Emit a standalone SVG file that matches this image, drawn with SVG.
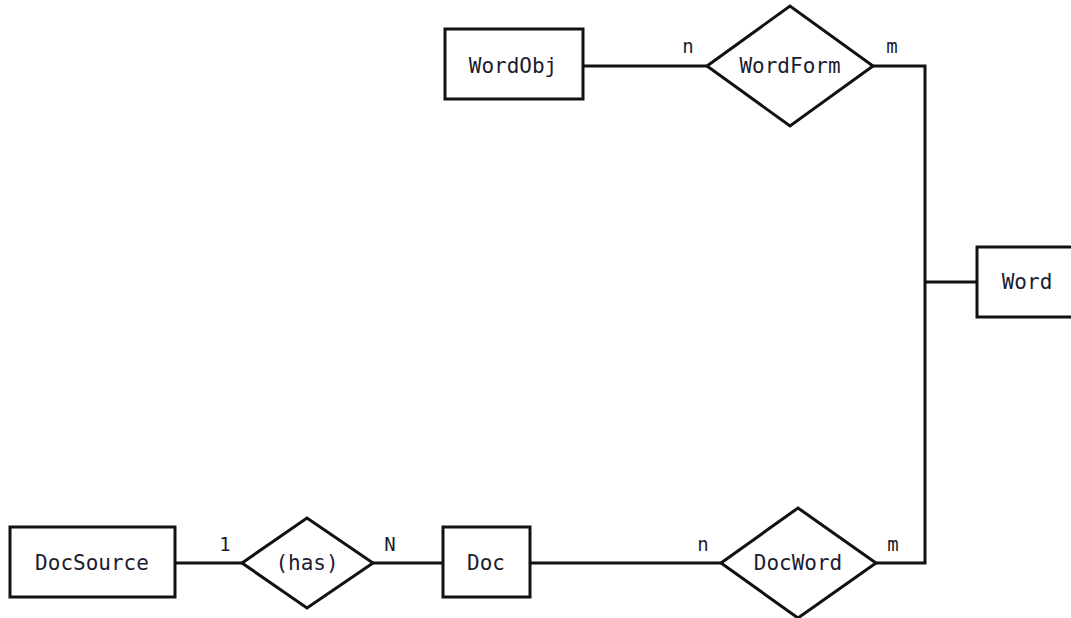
<svg xmlns="http://www.w3.org/2000/svg" width="1071" height="618" viewBox="0 0 1071 618">
<style>
.box{fill:#fff;stroke:#111;stroke-width:3}
.rel{fill:#fff;stroke:#111;stroke-width:3;stroke-linejoin:miter}
.ln{fill:none;stroke:#111;stroke-width:3}
.t{font-family:"DejaVu Sans Mono","Liberation Mono",monospace;font-size:21px;fill:#1c1c30;text-anchor:middle}
.c{font-family:"DejaVu Sans Mono","Liberation Mono",monospace;font-size:19px;fill:#1c1c30;text-anchor:middle}
</style>
<rect width="1071" height="618" fill="#fff"/>
<g id="connectors">
<polyline class="ln" points="583,66 707,66"/>
<polyline class="ln" points="873,66 925,66 925,563 876,563"/>
<polyline class="ln" points="925,282 977,282"/>
<polyline class="ln" points="175,563 242,563"/>
<polyline class="ln" points="373,563 443,563"/>
<polyline class="ln" points="530,563 721,563"/>
<text class="c" x="688" y="53">n</text>
<text class="c" x="892" y="53">m</text>
<text class="c" x="225" y="551">1</text>
<text class="c" x="390" y="551">N</text>
<text class="c" x="703" y="551">n</text>
<text class="c" x="893" y="551">m</text>
</g>
<g id="WordObj">
<rect class="box" x="445" y="29" width="138" height="70"/>
<text class="t" x="513" y="73">WordObj</text>
</g>
<g id="WordForm">
<polygon class="rel" points="707,66 790,6 873,66 790,126"/>
<text class="t" x="790" y="73">WordForm</text>
</g>
<g id="Word">
<rect class="box" x="977" y="247" width="100" height="70"/>
<text class="t" x="1027" y="289">Word</text>
</g>
<g id="DocSource">
<rect class="box" x="10" y="527" width="165" height="70"/>
<text class="t" x="92" y="570">DocSource</text>
</g>
<g id="has">
<polygon class="rel" points="242,563 307,518 373,563 307,608"/>
<text class="t" x="307" y="570">(has)</text>
</g>
<g id="Doc">
<rect class="box" x="443" y="527" width="87" height="70"/>
<text class="t" x="486" y="570">Doc</text>
</g>
<g id="DocWord">
<polygon class="rel" points="721,563 798,508 876,563 798,618"/>
<text class="t" x="798" y="570">DocWord</text>
</g>
</svg>
